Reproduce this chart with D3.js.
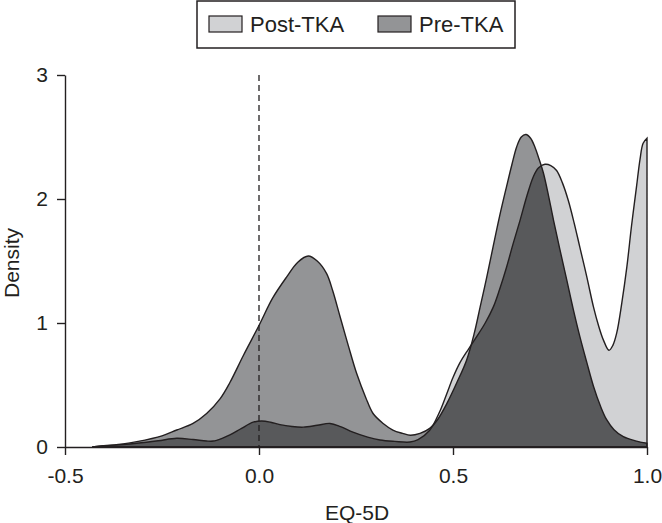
<!DOCTYPE html>
<html>
<head>
<meta charset="utf-8">
<script src="https://cdn.jsdelivr.net/npm/d3@7"></script>
<style>
  body { margin: 0; background: #fff; }
  svg { display: block; font-family: "Liberation Sans", Arial, sans-serif; }
</style>
</head>
<body>
<div id="root"></div>
<script>
// EQ-5D density
const preX = [-0.43, -0.40, -0.35, -0.315, -0.25, -0.212, -0.17, -0.135, -0.10, -0.075, -0.04, 0.0, 0.035, 0.071, 0.10, 0.127, 0.15, 0.174, 0.19, 0.209, 0.23, 0.252, 0.275, 0.294, 0.32, 0.345, 0.37, 0.39, 0.415, 0.44, 0.46, 0.484, 0.51, 0.535, 0.555, 0.57, 0.587, 0.603, 0.62, 0.638, 0.652, 0.664, 0.676, 0.688, 0.70, 0.711, 0.722, 0.733, 0.746, 0.759, 0.775, 0.793, 0.81, 0.827, 0.845, 0.862, 0.88, 0.896, 0.915, 0.939, 0.97, 1.0];
const preY = [0, 0.01, 0.025, 0.043, 0.09, 0.137, 0.19, 0.27, 0.39, 0.52, 0.74, 0.98, 1.20, 1.37, 1.49, 1.54, 1.50, 1.40, 1.26, 1.05, 0.82, 0.59, 0.40, 0.27, 0.19, 0.137, 0.11, 0.095, 0.11, 0.15, 0.22, 0.35, 0.52, 0.70, 0.92, 1.13, 1.37, 1.61, 1.86, 2.10, 2.28, 2.42, 2.50, 2.52, 2.49, 2.42, 2.32, 2.21, 2.03, 1.83, 1.60, 1.35, 1.11, 0.89, 0.68, 0.49, 0.33, 0.22, 0.14, 0.083, 0.05, 0.03];

const postX = [-0.43, -0.40, -0.35, -0.315, -0.26, -0.212, -0.17, -0.135, -0.118, -0.095, -0.075, -0.045, -0.015, 0.007, 0.03, 0.054, 0.085, 0.114, 0.15, 0.183, 0.21, 0.242, 0.28, 0.312, 0.35, 0.389, 0.41, 0.44, 0.465, 0.484, 0.50, 0.518, 0.54, 0.561, 0.583, 0.604, 0.62, 0.638, 0.655, 0.673, 0.69, 0.707, 0.72, 0.737, 0.752, 0.767, 0.782, 0.797, 0.812, 0.827, 0.845, 0.862, 0.875, 0.888, 0.902, 0.912, 0.922, 0.935, 0.948, 0.96, 0.973, 0.982, 0.99, 1.0];
const postY = [0, 0.01, 0.02, 0.03, 0.05, 0.07, 0.06, 0.048, 0.048, 0.07, 0.097, 0.15, 0.20, 0.21, 0.20, 0.18, 0.165, 0.16, 0.175, 0.19, 0.165, 0.12, 0.08, 0.056, 0.045, 0.04, 0.06, 0.135, 0.28, 0.43, 0.56, 0.68, 0.79, 0.89, 1.0, 1.13, 1.27, 1.45, 1.64, 1.83, 2.02, 2.18, 2.25, 2.28, 2.27, 2.23, 2.13, 1.99, 1.81, 1.61, 1.37, 1.13, 0.98, 0.86, 0.78, 0.82, 0.92, 1.16, 1.45, 1.78, 2.10, 2.32, 2.45, 2.49];

const xTicks = [-0.5, 0.0, 0.5, 1.0];
const xTickLabels = ["-0.5", "0.0", "0.5", "1.0"];
const yTicks = [0, 1, 2, 3];
const legendNames = ["Post-TKA", "Pre-TKA"];

const W = 662, H = 523;
const colPost = "#d1d2d4", colPre = "#939496", colBoth = "#58595b", ink = "#231f20";

const svg = d3.select("#root").append("svg").attr("width", W).attr("height", H);

const x = d3.scaleLinear().domain([-0.5, 1.0]).range([65, 647]);
const y = d3.scaleLinear().domain([0, 3]).range([447, 75]);

const pre = preX.map((v, i) => [v, preY[i]]);
const post = postX.map((v, i) => [v, postY[i]]);

const area = d3.area()
  .curve(d3.curveCatmullRom.alpha(0.5))
  .x(d => x(d[0]))
  .y0(y(0))
  .y1(d => y(d[1]));

svg.append("clipPath").attr("id", "postClip")
  .append("path").attr("d", area(post));

svg.append("path").attr("d", area(post)).attr("fill", colPost);
svg.append("path").attr("d", area(pre)).attr("fill", colPre);
// where both densities overlap
svg.append("path").attr("d", area(pre)).attr("fill", colBoth).attr("clip-path", "url(#postClip)");

svg.append("path").attr("d", area(post)).attr("fill", "none").attr("stroke", ink).attr("stroke-width", 1.4);
svg.append("path").attr("d", area(pre)).attr("fill", "none").attr("stroke", ink).attr("stroke-width", 1.4);

svg.append("line")
  .attr("x1", x(0)).attr("x2", x(0)).attr("y1", y(3)).attr("y2", y(0))
  .attr("stroke", ink).attr("stroke-width", 1.3).attr("stroke-dasharray", "6,4");

const xAxis = d3.axisBottom(x).tickValues(xTicks).tickFormat((d, i) => xTickLabels[i])
  .tickSize(8).tickPadding(13).tickSizeOuter(0);
const yAxis = d3.axisLeft(y).tickValues(yTicks).tickFormat(d3.format("d")).tickSize(8).tickPadding(9).tickSizeOuter(0);

const gx = svg.append("g").attr("transform", `translate(0,${y(0)})`).call(xAxis);
const gy = svg.append("g").attr("transform", `translate(${x(-0.5)},0)`).call(yAxis);
[gx, gy].forEach(g => {
  g.selectAll("path, line").attr("stroke", ink).attr("stroke-width", 1.4);
  g.selectAll("text").attr("fill", ink).style("font-size", "21px").style("font-family", "Liberation Sans, Arial, sans-serif");
});

svg.append("text").attr("x", 357).attr("y", 520).attr("text-anchor", "middle")
  .attr("fill", ink).style("font-size", "21px").text("EQ-5D");
svg.append("text").attr("transform", "translate(19,263) rotate(-90)").attr("text-anchor", "middle")
  .attr("fill", ink).style("font-size", "21px").text("Density");

// legend
const lg = svg.append("g");
lg.append("rect").attr("x", 197).attr("y", 1).attr("width", 318).attr("height", 47)
  .attr("fill", "#fff").attr("stroke", ink).attr("stroke-width", 1.5);
const items = [{ name: legendNames[0], fill: colPost, sx: 209 }, { name: legendNames[1], fill: colPre, sx: 378 }];
items.forEach(it => {
  lg.append("rect").attr("x", it.sx).attr("y", 16).attr("width", 33).attr("height", 16)
    .attr("fill", it.fill).attr("stroke", ink).attr("stroke-width", 1.2);
  lg.append("text").attr("x", it.sx + 41).attr("y", 32).attr("fill", ink)
    .style("font-size", "22px").text(it.name);
});
</script>
</body>
</html>
